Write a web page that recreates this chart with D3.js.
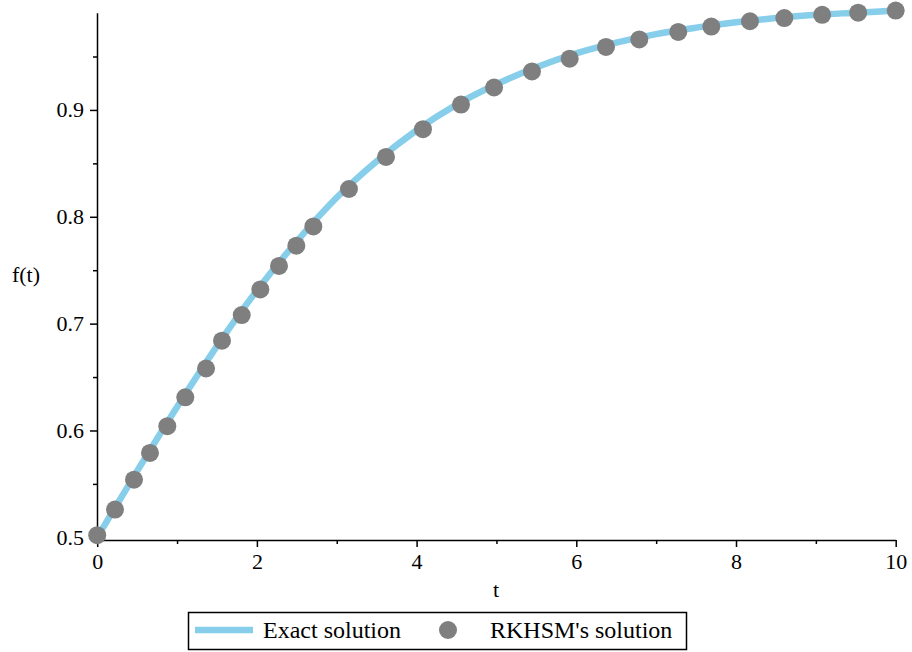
<!DOCTYPE html>
<html lang="en">
<head>
  <meta charset="UTF-8">
  <title>f(t)</title>
  <script src="https://d3js.org/d3.v7.min.js"></script>
  <style>
    body { margin: 0; padding: 0; background: #fff; }
    svg { display: block; }
    svg text { font-family: "Liberation Serif", "Times New Roman", Times, "DejaVu Serif", serif !important; fill: #000; }
    .axis path, .axis line { stroke: #000; }
    .axis text { font-size: 22px; }
  </style>
</head>
<body>
  <svg id="chart" width="912" height="652"></svg>
  <script>
    // exact solution
    var exactT = [0, 0.5, 1, 1.5, 2, 2.5, 3, 3.5, 4, 4.5, 5, 5.5, 6, 6.5, 7, 7.5, 8, 8.5, 9, 9.5, 10];
    var exactF = [0.500, 0.562, 0.622, 0.679, 0.731, 0.777, 0.818, 0.852, 0.881, 0.905, 0.924,
                  0.940, 0.953, 0.963, 0.971, 0.977, 0.982, 0.986, 0.989, 0.991, 0.993];

    // RKHSM points
    var rkT = [0, 0.223, 0.461, 0.661, 0.878, 1.103, 1.363, 1.563, 1.810, 2.043, 2.277, 2.494, 2.707,
               3.153, 3.617, 4.080, 4.556, 4.970, 5.445, 5.917, 6.372, 6.789, 7.277, 7.691, 8.175,
               8.605, 9.079, 9.530, 10];
    var rkF = [0.502, 0.526, 0.554, 0.579, 0.604, 0.631, 0.658, 0.684, 0.708, 0.732, 0.754, 0.773, 0.791,
               0.826, 0.856, 0.882, 0.905, 0.921, 0.936, 0.948, 0.959, 0.966, 0.973, 0.978, 0.983,
               0.986, 0.989, 0.991, 0.993];

    var xTicks = [0, 2, 4, 6, 8, 10];
    var xMinor = [1, 3, 5, 7, 9];
    var yTicks = [0.5, 0.6, 0.7, 0.8, 0.9];
    var yMinor = [0.55, 0.65, 0.75, 0.85, 0.95];

    var serif = '"Liberation Serif", "Times New Roman", Times, "DejaVu Serif", serif';
    var svg = d3.select('#chart');

    var x = d3.scaleLinear().domain([0, 10]).range([97.2, 895.7]);
    var y = d3.scaleLinear().domain([0.4975, 0.991]).range([540, 12.7]);

    // x axis
    svg.append('g')
      .attr('class', 'axis')
      .attr('transform', 'translate(0,540)')
      .call(d3.axisBottom(x).tickValues(xTicks).tickSize(7).tickSizeOuter(0).tickPadding(6)
        .tickFormat(d3.format('d')));
    svg.append('g')
      .attr('class', 'axis')
      .attr('transform', 'translate(0,540)')
      .call(d3.axisBottom(x).tickValues(xMinor).tickSize(4).tickFormat(''))
      .select('.domain').remove();

    // y axis
    svg.append('g')
      .attr('class', 'axis')
      .attr('transform', 'translate(97,0)')
      .call(d3.axisLeft(y).tickValues(yTicks).tickSize(7).tickSizeOuter(0).tickPadding(6)
        .tickFormat(d3.format('.1f')));
    svg.append('g')
      .attr('class', 'axis')
      .attr('transform', 'translate(97,0)')
      .call(d3.axisLeft(y).tickValues(yMinor).tickSize(4).tickFormat(''))
      .select('.domain').remove();

    svg.selectAll('.axis').attr('font-family', serif).attr('font-size', 22);
    svg.selectAll('.axis path, .axis line').attr('stroke-width', 1.5);

    // axis labels
    svg.append('text')
      .attr('x', 496).attr('y', 597)
      .attr('text-anchor', 'middle')
      .attr('font-family', serif)
      .style('font-size', '22px')
      .text('t');
    svg.append('text')
      .attr('x', 26).attr('y', 282)
      .attr('text-anchor', 'middle')
      .attr('font-family', serif)
      .style('font-size', '22px')
      .text('f(t)');

    // exact curve
    var line = d3.line()
      .x(function(d) { return x(d[0]); })
      .y(function(d) { return y(d[1]); })
      .curve(d3.curveMonotoneX);
    svg.append('path')
      .datum(d3.zip(exactT, exactF))
      .attr('d', line)
      .attr('fill', 'none')
      .attr('stroke', '#87CEEB')
      .attr('stroke-width', 6.5);

    // RKHSM points
    svg.append('g')
      .selectAll('circle')
      .data(d3.zip(rkT, rkF))
      .enter().append('circle')
      .attr('cx', function(d) { return x(d[0]); })
      .attr('cy', function(d) { return y(d[1]); })
      .attr('r', 9)
      .attr('fill', '#7f7f7f');

    // legend
    var legend = svg.append('g').attr('font-family', serif);
    legend.append('rect')
      .attr('x', 188.5).attr('y', 612.5)
      .attr('width', 498).attr('height', 37)
      .attr('fill', '#fff')
      .attr('stroke', '#000')
      .attr('stroke-width', 1.5);
    legend.append('line')
      .attr('x1', 195).attr('x2', 253)
      .attr('y1', 630).attr('y2', 630)
      .attr('stroke', '#87CEEB')
      .attr('stroke-width', 6.5);
    legend.append('text')
      .attr('x', 263).attr('y', 638)
      .style('font-size', '24px')
      .text('Exact solution');
    legend.append('circle')
      .attr('cx', 448).attr('cy', 630).attr('r', 9)
      .attr('fill', '#7f7f7f');
    legend.append('text')
      .attr('x', 490).attr('y', 638)
      .style('font-size', '24px')
      .text("RKHSM's solution");
  </script>
</body>
</html>
